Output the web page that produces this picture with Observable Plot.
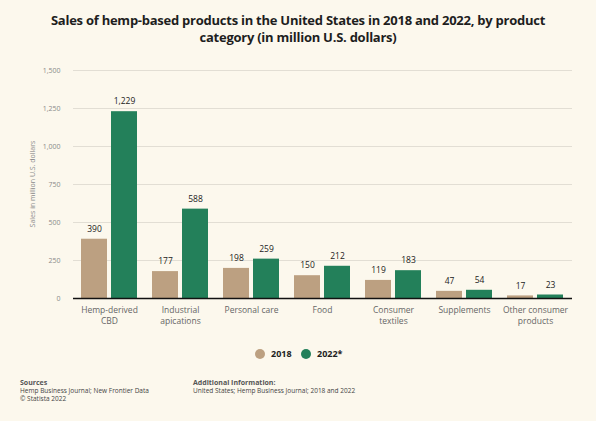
<!DOCTYPE html>
<html>
<head>
<meta charset="utf-8">
<script src="https://cdn.jsdelivr.net/npm/d3@7"></script>
<script src="https://cdn.jsdelivr.net/npm/@observablehq/plot@0.6"></script>
<style>
  html, body { margin: 0; padding: 0; background: #fcf8ed; }
  #wrap { position: relative; width: 596px; height: 421px; background: #fcf8ed; font-family: "Open Sans", sans-serif; overflow: hidden; }
  #title { position: absolute; left: 0; top: 12px; width: 596px; text-align: center; font-weight: 700; font-size: 13px; line-height: 16.5px; color: #1e1e1e; letter-spacing: -0.25px; }
  #chart { position: absolute; left: 0; top: 0; }
  #ylabel { position: absolute; left: 32px; top: 184px; transform: translate(-50%, -50%) rotate(-90deg); white-space: nowrap; font-size: 7px; color: #8a8a8a; }
  #legend { position: absolute; left: 0; top: 347px; width: 596px; height: 14px; }
  .lg { position: absolute; top: 0; font-weight: 700; font-size: 9px; color: #222; line-height: 14px; }
  .dot { position: absolute; top: 2px; width: 10px; height: 10px; border-radius: 50%; }
  .foot { position: absolute; font-size: 6.5px; color: #444; line-height: 8px; }
  .foot b { font-size: 7px; color: #555; }
  svg [aria-label^="y-axis"] text { font-size: 7px; fill: #8a8a8a; }
</style>
</head>
<body>
<div id="wrap">
  <div id="chart"></div>
  <div id="title"></div>
  <div id="ylabel"></div>
  <div id="legend"></div>
  <div class="foot" id="src" style="left:20px; top:379px;"></div>
  <div class="foot" id="add" style="left:193px; top:379px;"></div>
</div>
<script>
const titleText = "Sales of hemp-based products in the United States in 2018 and 2022, by product<br>category (in million U.S. dollars)";
const categories = ["Hemp-derived CBD", "Industrial applications", "Personal care", "Food", "Consumer textiles", "Supplements", "Other consumer products"];
const categoryLabels = ["Hemp-derived\nCBD", "Industrial\napications", "Personal care", "Food", "Consumer\ntextiles", "Supplements", "Other consumer\nproducts"];
const seriesNames = ["2018", "2022*"];
const values2018 = [390, 177, 198, 150, 119, 47, 17];
const values2022 = [1229, 588, 259, 212, 183, 54, 23];
const yTicks = [0, 250, 500, 750, 1000, 1250, 1500];
const colors = ["#bca081", "#23805a"];
const yLabel = "Sales in million U.S. dollars";
const sourcesLines = ["Hemp Business Journal; New Frontier Data", "© Statista 2022"];
const additionalLines = ["United States; Hemp Business Journal; 2018 and 2022"];

document.getElementById("title").innerHTML = titleText;
document.getElementById("ylabel").textContent = yLabel;
document.getElementById("src").innerHTML = "<b>Sources</b><br>" + sourcesLines.join("<br>");
document.getElementById("add").innerHTML = "<b>Additional Information:</b><br>" + additionalLines.join("<br>");

const d18 = categories.map((c, i) => ({category: c, value: values2018[i]}));
const d22 = categories.map((c, i) => ({category: c, value: values2022[i]}));
const fmt = d3.format(",");
const labelOf = new Map(categories.map((c, i) => [c, categoryLabels[i]]));

const chart = Plot.plot({
  width: 596,
  height: 340,
  marginLeft: 73,
  marginRight: 24,
  marginTop: 70,
  marginBottom: 42,
  style: {background: "transparent", fontFamily: "Open Sans, sans-serif", fontSize: "8.5px", color: "#333"},
  x: {domain: categories, paddingInner: 0.205, paddingOuter: 0.102, axis: null},
  y: {domain: [0, 1500], ticks: yTicks, tickFormat: d3.format(","), tickSize: 0, tickPadding: 13, label: null},
  marks: [
    Plot.ruleY(yTicks.filter(d => d > 0), {stroke: "#e2ded4", strokeWidth: 1}),
    Plot.barY(d18, {x: "category", y: "value", fill: colors[0], insetRight: 30}),
    Plot.barY(d22, {x: "category", y: "value", fill: colors[1], insetLeft: 30}),
    Plot.text(d18, {x: "category", y: "value", text: d => fmt(d.value), dx: -15, dy: -10, fill: "#222", fontSize: 8.5}),
    Plot.text(d22, {x: "category", y: "value", text: d => fmt(d.value), dx: 15, dy: -10, fill: "#222", fontSize: 8.5}),
    Plot.text(categories, {x: d => d, frameAnchor: "bottom", text: d => labelOf.get(d), lineAnchor: "top", lineHeight: 1.3, dy: 7, fill: "#666", fontSize: 8.5}),
    Plot.ruleY([0], {stroke: "#111", strokeWidth: 1.5})
  ]
});
document.getElementById("chart").appendChild(chart);

const legend = document.getElementById("legend");
const legendX = [255, 301];
seriesNames.forEach((name, i) => {
  const dot = document.createElement("div");
  dot.className = "dot";
  dot.style.left = legendX[i] + "px";
  dot.style.background = colors[i];
  legend.appendChild(dot);
  const t = document.createElement("div");
  t.className = "lg";
  t.style.left = (legendX[i] + 16) + "px";
  t.textContent = name;
  legend.appendChild(t);
});
</script>
</body>
</html>
